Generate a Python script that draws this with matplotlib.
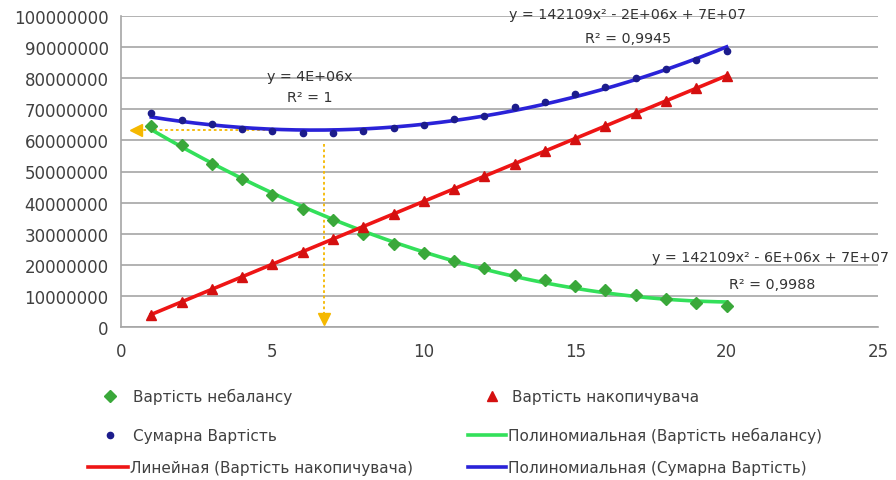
import numpy as np
import matplotlib
matplotlib.use("Agg")
import matplotlib.pyplot as plt
from matplotlib.lines import Line2D
from matplotlib.ticker import FuncFormatter

plt.rcParams["font.family"] = ["DejaVu Sans"]

# Number of storage units / cost values (millions)
units = np.arange(1, 21)
imbalance_cost = [64.5, 58.4, 52.5, 47.5, 42.6, 37.9, 34.3, 30.0, 26.8, 23.9,
                  21.1, 19.0, 16.8, 15.0, 13.2, 11.8, 10.4, 8.9, 7.8, 6.9]
storage_cost = [4.0, 8.1, 12.1, 16.2, 20.2, 24.2, 28.3, 32.3, 36.4, 40.4,
                44.4, 48.5, 52.5, 56.6, 60.6, 64.6, 68.7, 72.7, 76.8, 80.8]
total_cost = [68.9, 66.4, 65.2, 63.6, 62.9, 62.4, 62.4, 62.9, 64.0, 65.1,
              66.8, 67.9, 70.6, 72.5, 75.0, 77.2, 80.0, 82.8, 85.7, 88.9]

x_ticks = [0, 5, 10, 15, 20, 25]
y_ticks = [0, 10e6, 20e6, 30e6, 40e6, 50e6, 60e6, 70e6, 80e6, 90e6, 100e6]

# Optimum point marked with guide arrows
opt_units = 6.7
opt_cost = 63.4e6

imb = np.array(imbalance_cost) * 1e6
sto = np.array(storage_cost) * 1e6
tot = np.array(total_cost) * 1e6

GREEN_M, GREEN_L = "#3aa83a", "#33e05a"
RED_M, RED_L = "#d41010", "#ee1515"
BLUE_M, BLUE_L = "#1c1c8c", "#2a22d8"
GOLD = "#f5b800"
TXT = "#404040"

W, H = 896, 481
fig = plt.figure(figsize=(W / 100, H / 100), dpi=100)
ax = fig.add_axes([121 / W, 1 - 328 / H, (878 - 121) / W, (328 - 17) / H])

ax.set_xlim(0, 25)
ax.set_ylim(0, 100e6)
ax.set_xticks(x_ticks)
ax.set_yticks(y_ticks)
ax.yaxis.set_major_formatter(FuncFormatter(lambda v, p: f"{int(round(v))}"))
ax.tick_params(length=0, labelsize=12, colors=TXT)
ax.tick_params(axis="y", pad=9)
ax.tick_params(axis="x", pad=11)
ax.grid(axis="y", color="#a6a6a6", linewidth=1.2)
ax.set_axisbelow(True)
for s in ("top", "right"):
    ax.spines[s].set_visible(False)
for s in ("left", "bottom"):
    ax.spines[s].set_color("#a6a6a6")
    ax.spines[s].set_linewidth(1.2)

# Trendlines
xf = np.linspace(units[0], units[-1], 200)
p_imb = np.polyfit(units, imb, 2)
p_tot = np.polyfit(units, tot, 2)
p_sto = np.polyfit(units, sto, 1)
ax.plot(xf, np.polyval(p_imb, xf), color=GREEN_L, lw=2.6, zorder=3)
ax.plot(xf, np.polyval(p_sto, xf), color=RED_L, lw=2.6, zorder=3)
ax.plot(xf, np.polyval(p_tot, xf), color=BLUE_L, lw=2.6, zorder=3)

# Data series
ax.plot(units, imb, ls="none", marker="D", ms=6, color=GREEN_M, zorder=4)
ax.plot(units, sto, ls="none", marker="^", ms=7, color=RED_M, zorder=4)
ax.plot(units, tot, ls="none", marker="o", ms=4.5, color=BLUE_M, zorder=4)

# Guide arrows to the optimum
ax.plot([0.55, opt_units], [opt_cost, opt_cost], color=GOLD, lw=1.3, ls=(0, (1.5, 1.5)), zorder=2)
ax.plot([opt_units, opt_units], [59e6, 1.5e6], color=GOLD, lw=1.3, ls=(0, (1.5, 1.5)), zorder=2)
ax.plot([0.5], [opt_cost], marker="<", ms=9, color=GOLD, ls="none", zorder=5, clip_on=False)
ax.plot([opt_units], [2.5e6], marker="v", ms=9, color=GOLD, ls="none", zorder=5, clip_on=False)

# Trendline equations
eq_kw = dict(ha="center", va="center", fontsize=10.3, color="#333333", zorder=6, clip_on=False)
ax.text(6.22, 80.8e6, "y = 4E+06x", **eq_kw)
ax.text(6.25, 74.0e6, "R² = 1", **eq_kw)
ax.text(16.72, 100.6e6, "y = 142109x² - 2E+06x + 7E+07", **eq_kw)
ax.text(16.75, 93.0e6, "R² = 0,9945", **eq_kw)
ax.text(21.45, 22.6e6, "y = 142109x² - 6E+06x + 7E+07", **eq_kw)
ax.text(21.5, 13.9e6, "R² = 0,9988", **eq_kw)

# Legend
def fx(px):
    return px / W

def fy(py):
    return 1 - py / H

def leg_marker(px, py, marker, color, ms):
    fig.add_artist(Line2D([fx(px)], [fy(py)], marker=marker, ms=ms, color=color,
                          ls="none", transform=fig.transFigure))

def leg_line(px0, px1, py, color):
    fig.add_artist(Line2D([fx(px0), fx(px1)], [fy(py), fy(py)], color=color, lw=2.6,
                          transform=fig.transFigure))

def leg_text(px, py, s):
    fig.text(fx(px), fy(py), s, ha="left", va="center", fontsize=11, color=TXT)

leg_marker(110, 397, "D", GREEN_M, 6)
leg_text(133, 397, "Вартість небалансу")
leg_marker(492, 397, "^", RED_M, 7)
leg_text(512, 397, "Вартість накопичувача")

leg_marker(110, 436, "o", BLUE_M, 4.5)
leg_text(133, 436, "Сумарна Вартість")
leg_line(468, 506, 436, GREEN_L)
leg_text(508, 436, "Полиномиальная (Вартість небалансу)")

leg_line(88, 128, 468, RED_L)
leg_text(130, 468, "Линейная (Вартість накопичувача)")
leg_line(468, 506, 468, BLUE_L)
leg_text(508, 468, "Полиномиальная (Сумарна Вартість)")

fig.savefig("out.png", dpi=100)
